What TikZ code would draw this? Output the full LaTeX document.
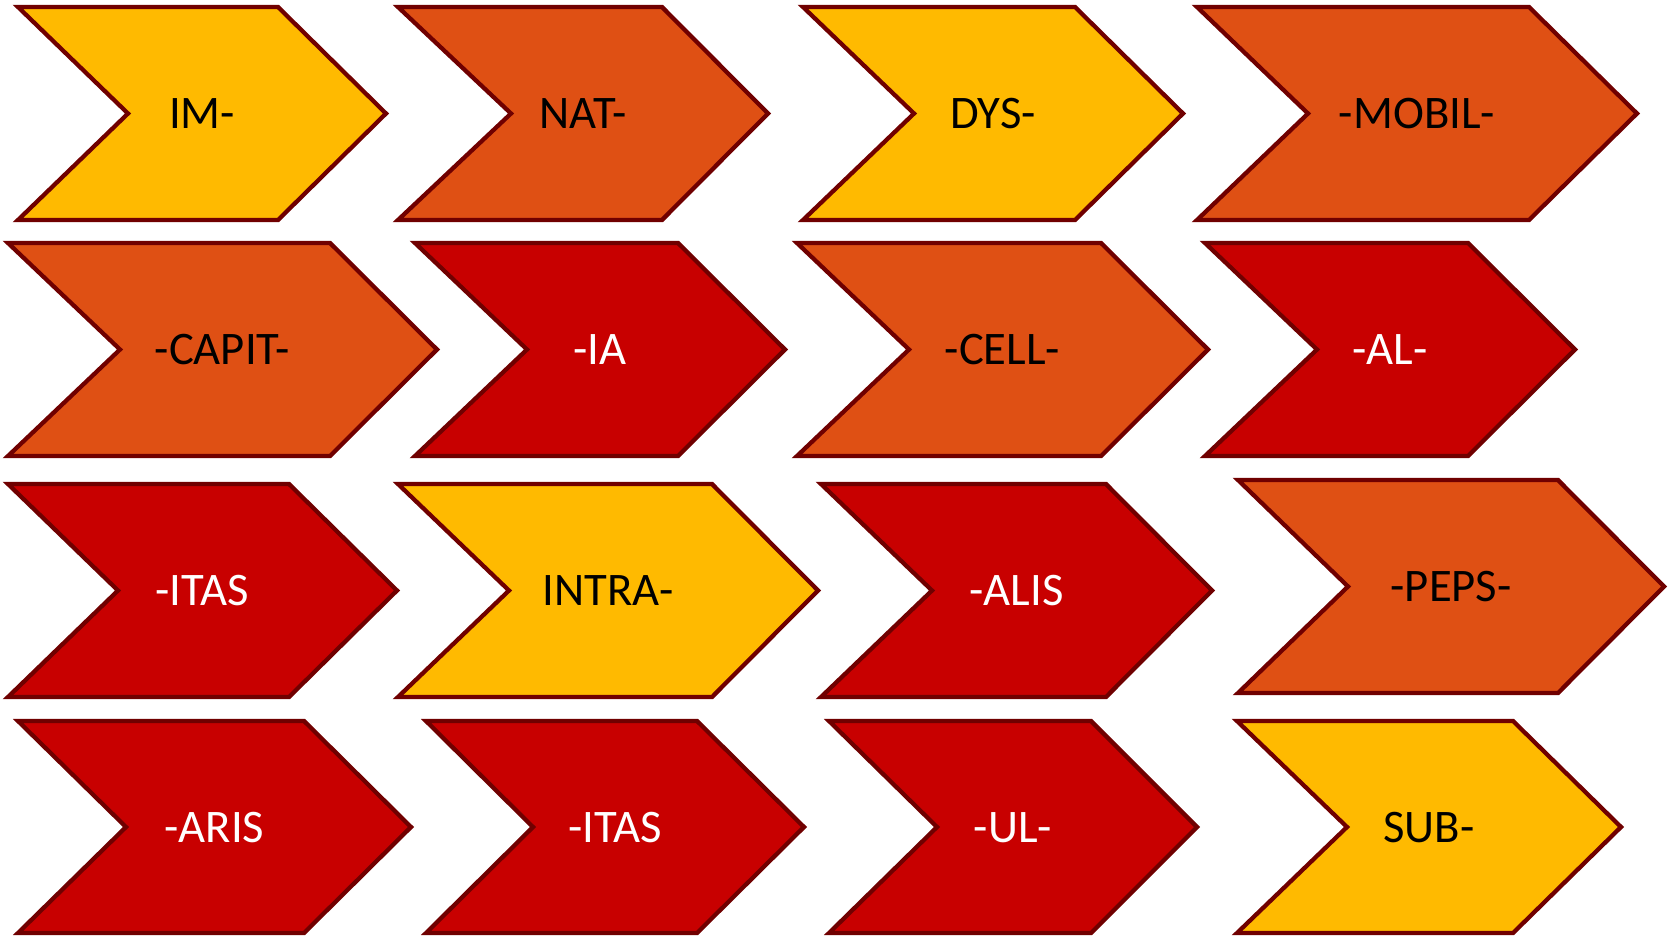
\documentclass[tikz,border=0pt]{standalone}
\usepackage{fontspec}
\setmainfont{Carlito}
\definecolor{cyel}{HTML}{FFBA00}
\definecolor{corg}{HTML}{DF5014}
\definecolor{cred}{HTML}{C80000}
\definecolor{cedge}{HTML}{700000}
\tikzset{
  chevshape/.style={draw=cedge, line width=3.2pt, line join=miter},
  yelbox/.style={chevshape, fill=cyel},
  orgbox/.style={chevshape, fill=corg},
  redbox/.style={chevshape, fill=cred},
  labbase/.style={font=\fontsize{35}{40}\selectfont, inner sep=0pt, anchor=base},
  yellab/.style={labbase, text=black},
  orglab/.style={labbase, text=black},
  redlab/.style={labbase, text=white},
}
% #1 name, #2 left, #3 notch, #4 flat, #5 tip, #6 top, #7 bottom, #8 kind (yel/org/red), #9 label
\newcommand\chevron[9]{%
  \draw[#8box] (#2,#6) -- (#4,#6) -- (#5,{(#6+#7)/2}) -- (#4,#7) -- (#2,#7) -- (#3,{(#6+#7)/2}) -- cycle;
  \node[#8lab] (#1) at ({(#2+#5)/2},{(#6+#7)/2+15}) {#9};
}
\begin{document}
\begin{tikzpicture}[x=0.75pt, y=-0.75pt]
\useasboundingbox (0,0) rectangle (1669,936);
% row 1
\chevron{im}{18}{128}{278}{386}{7}{220}{yel}{IM-}
\chevron{nat}{398}{511}{662}{768}{7}{220}{org}{NAT-}
\chevron{dys}{803}{914}{1075}{1183}{7}{220}{yel}{DYS-}
\chevron{mobil}{1197}{1308}{1529}{1637}{7}{220}{org}{-MOBIL-}
% row 2
\chevron{capit}{8}{120}{330}{437}{243}{456}{org}{-CAPIT-}
\chevron{ia}{415}{527}{678}{785}{243}{456}{red}{-IA}
\chevron{cell}{797}{909}{1101}{1208}{243}{456}{org}{-CELL-}
\chevron{al}{1205}{1317}{1468}{1575}{243}{456}{red}{-AL-}
% row 3
\chevron{itasa}{8}{118}{289}{397}{484}{697}{red}{-ITAS}
\chevron{intra}{398}{509}{712}{818}{484}{697}{yel}{INTRA-}
\chevron{alis}{821}{932}{1106}{1212}{484}{697}{red}{-ALIS}
\chevron{peps}{1238}{1348}{1558}{1664}{480}{693}{org}{-PEPS-}
% row 4
\chevron{aris}{18}{126}{304}{411}{721}{933}{red}{-ARIS}
\chevron{itasb}{426}{533}{697}{804}{721}{933}{red}{-ITAS}
\chevron{ul}{829}{937}{1091}{1197}{721}{933}{red}{-UL-}
\chevron{sub}{1237}{1347}{1513}{1621}{721}{933}{yel}{SUB-}
\end{tikzpicture}
\end{document}
